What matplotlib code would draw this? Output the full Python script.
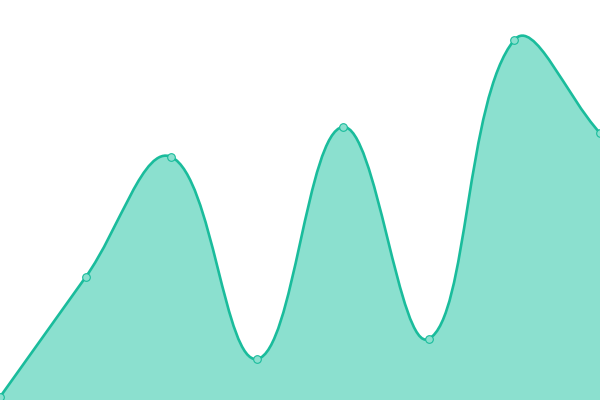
import matplotlib
matplotlib.use('Agg')
import matplotlib.pyplot as plt
from matplotlib.path import Path
from matplotlib.patches import PathPatch
import numpy as np

# values (height above the bottom edge)
labels = ['1', '2', '3', '4', '5', '6', '7', '8']
values = [3, 123, 243, 41, 273, 61, 360, 267]

line_color = '#1abc9c'
fill_color = '#8be0cf'
tension = 0.4
y_max = 400


def spline_controls(px, py, t):
    # control points like Chart.js splineCurve, computed in pixel space
    n = len(px)
    ctrl = []
    for i in range(n):
        x0, y0 = (px[i - 1], py[i - 1]) if i > 0 else (px[i], py[i])
        x1, y1 = px[i], py[i]
        x2, y2 = (px[i + 1], py[i + 1]) if i < n - 1 else (px[i], py[i])
        d01 = np.hypot(x1 - x0, y1 - y0)
        d12 = np.hypot(x2 - x1, y2 - y1)
        s = d01 + d12
        fa = t * d01 / s if s else 0
        fb = t * d12 / s if s else 0
        prev = (x1 - fa * (x2 - x0), y1 - fa * (y2 - y0))
        nxt = (x1 + fb * (x2 - x0), y1 + fb * (y2 - y0))
        ctrl.append((prev, nxt))
    return ctrl


fig = plt.figure(figsize=(6, 4), dpi=100)
ax = fig.add_axes([0, 0, 1, 1])
n = len(values)
ax.set_xlim(0, n - 1)
ax.set_ylim(0, y_max)
ax.axis('off')

# pixel coords for distances
sx = 600 / (n - 1)
px = [i * sx for i in range(n)]
py = list(values)
ctrl = spline_controls(px, py, tension)

verts = [(px[0] / sx, py[0])]
codes = [Path.MOVETO]
for i in range(n - 1):
    c1 = ctrl[i][1]
    c2 = ctrl[i + 1][0]
    verts += [(c1[0] / sx, min(max(c1[1], 0), y_max)),
              (c2[0] / sx, min(max(c2[1], 0), y_max)),
              (px[i + 1] / sx, py[i + 1])]
    codes += [Path.CURVE4] * 3

line_path = Path(verts, codes)
fill_path = Path(verts + [(n - 1, 0), (0, 0), (0, py[0])],
                 codes + [Path.LINETO, Path.LINETO, Path.CLOSEPOLY])

ax.add_patch(PathPatch(fill_path, facecolor=fill_color, edgecolor='none'))
ax.add_patch(PathPatch(line_path, facecolor='none', edgecolor=line_color,
                       linewidth=1.9, clip_on=False))
ax.plot(range(n), values, linestyle='none', marker='o', markersize=5.5,
        markerfacecolor=fill_color, markeredgecolor=line_color,
        markeredgewidth=0.8, clip_on=False)

fig.savefig('out.png', dpi=100)
